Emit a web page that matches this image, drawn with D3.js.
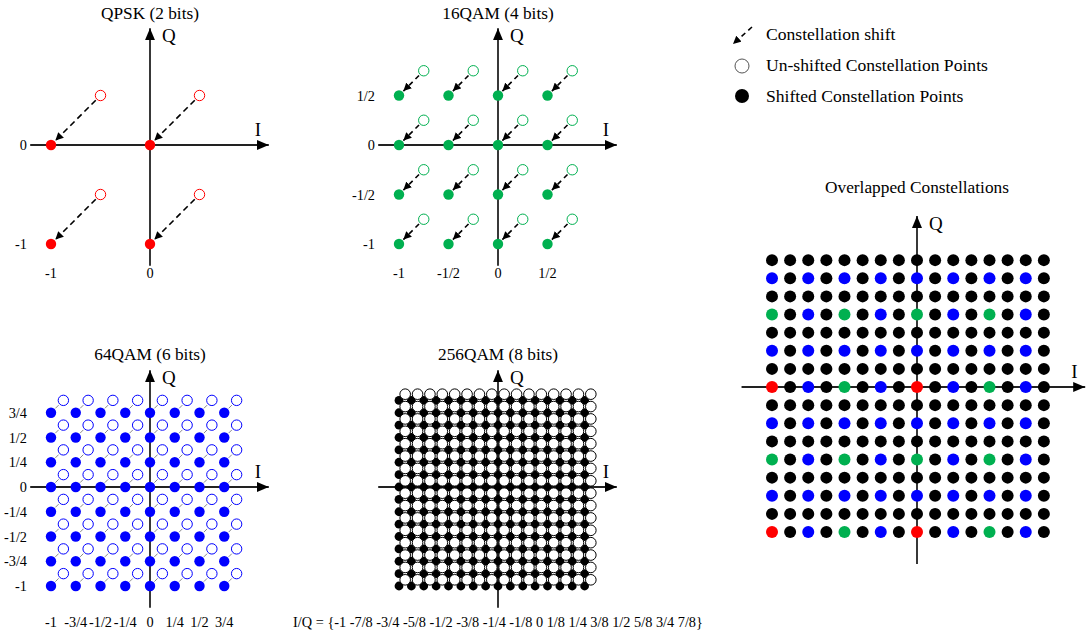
<!DOCTYPE html>
<html>
<head>
<meta charset="utf-8">
<script src="https://cdn.jsdelivr.net/npm/d3@7"></script>
<style>
  body { margin: 0; background: #fff; }
  svg text { font-family: "Liberation Serif", "Times New Roman", serif; fill: #000; }
</style>
</head>
<body>
<svg id="chart" width="1086" height="635"></svg>
<script>
// constellation levels (I and Q share the same set)
const qpskLevels = [-1, 0];
const qam16Levels = [-1, -1/2, 0, 1/2];
const qam64Levels = [-1, -3/4, -1/2, -1/4, 0, 1/4, 1/2, 3/4];
const qam256Levels = [-1, -7/8, -3/4, -5/8, -1/2, -3/8, -1/4, -1/8, 0, 1/8, 1/4, 3/8, 1/2, 5/8, 3/4, 7/8];

// how far the un-shifted points sit up-right of the shifted ones
const qpskShift = 1/2;
const qam16Shift = 1/4;
const qam64Shift = 1/8;
const qam256Shift = 1/16;

// tick labels
const qpskTicks = ["-1", "0"];
const qam16Ticks = ["-1", "-1/2", "0", "1/2"];
const qam64Ticks = ["-1", "-3/4", "-1/2", "-1/4", "0", "1/4", "1/2", "3/4"];
const qam256Ticks = ["-1", "-7/8", "-3/4", "-5/8", "-1/2", "-3/8", "-1/4", "-1/8", "0", "1/8", "1/4", "3/8", "1/2", "5/8", "3/4", "7/8"];

const legendItems = ["Constellation shift", "Un-shifted Constellation Points", "Shifted Constellation Points"];

const red = "#ff0000", green = "#00b050", blue = "#0000ff";

const svg = d3.select("#chart");
const defs = svg.append("defs");

defs.append("marker")
  .attr("id", "axisArrow")
  .attr("markerUnits", "userSpaceOnUse")
  .attr("viewBox", "0 -5 12 10")
  .attr("refX", 12).attr("refY", 0)
  .attr("markerWidth", 12).attr("markerHeight", 10)
  .attr("orient", "auto")
  .append("path").attr("d", "M0,-5L12,0L0,5Z").attr("fill", "#000");

defs.append("marker")
  .attr("id", "shiftArrow")
  .attr("markerUnits", "userSpaceOnUse")
  .attr("viewBox", "0 -4 8 8")
  .attr("refX", 8).attr("refY", 0)
  .attr("markerWidth", 8).attr("markerHeight", 8)
  .attr("orient", "auto")
  .append("path").attr("d", "M0,-4L8,0L0,4Z").attr("fill", "#000");

const panels = [
  { title: "QPSK (2 bits)", levels: qpskLevels, shift: qpskShift, ticks: qpskTicks,
    color: red, cx: 150, cy: 145, link: "long", titleY: 19, tickY: 278 },
  { title: "16QAM (4 bits)", levels: qam16Levels, shift: qam16Shift, ticks: qam16Ticks,
    color: green, cx: 498, cy: 145, link: "short", titleY: 19, tickY: 278 },
  { title: "64QAM (6 bits)", levels: qam64Levels, shift: qam64Shift, ticks: qam64Ticks,
    color: blue, cx: 150, cy: 487, link: "line", titleY: 360, tickY: 627 },
  { title: "256QAM (8 bits)", levels: qam256Levels, shift: qam256Shift, ticks: qam256Ticks,
    color: "#000", cx: 498, cy: 487, link: "none", titleY: 360, tickY: 627 }
];

const unit = 99;

function drawAxes(g, x, y, xEnd) {
  g.append("line")
    .attr("x1", x(-1.21)).attr("x2", x(xEnd))
    .attr("y1", y(0)).attr("y2", y(0))
    .attr("stroke", "#222").attr("stroke-width", 1.8)
    .attr("marker-end", "url(#axisArrow)");
  g.append("line")
    .attr("x1", x(0)).attr("x2", x(0))
    .attr("y1", y(-1.22)).attr("y2", y(1.18))
    .attr("stroke", "#222").attr("stroke-width", 1.8)
    .attr("marker-end", "url(#axisArrow)");
  g.append("text").attr("x", x(0) + 12).attr("y", y(1.18) + 14)
    .attr("font-size", 19).text("Q");
  g.append("text").attr("x", x(xEnd) - 14).attr("y", y(0) - 9)
    .attr("font-size", 19).text("I");
}

panels.forEach(p => {
  const g = svg.append("g");
  const x = d3.scaleLinear().domain([-1, 1]).range([p.cx - unit, p.cx + unit]);
  const y = d3.scaleLinear().domain([-1, 1]).range([p.cy + unit, p.cy - unit]);
  const pts = d3.cross(p.levels, p.levels).map(([i, q]) => ({ i, q }));
  const dense = p.link === "none";
  const r = dense ? 5.3 : 5.2;

  g.append("text").attr("x", p.cx).attr("y", p.titleY)
    .attr("text-anchor", "middle").attr("font-size", 17.3).text(p.title);

  drawAxes(g, x, y, 1.2);

  // connectors between un-shifted and shifted points
  const d = Math.SQRT1_2;
  if (!dense) {
    g.selectAll(".link").data(pts).join("line")
      .attr("x1", v => x(v.i + p.shift) - d * (r + 1.5))
      .attr("y1", v => y(v.q + p.shift) + d * (r + 1.5))
      .attr("x2", v => x(v.i) + d * (r + 1))
      .attr("y2", v => y(v.q) - d * (r + 1))
      .attr("stroke", p.link === "line" ? "#8a8a8a" : "#000")
      .attr("stroke-width", p.link === "line" ? 1 : 1.6)
      .attr("stroke-dasharray", p.link === "long" ? "6,4" : p.link === "short" ? "5,4" : null)
      .attr("marker-end", p.link === "line" ? null : "url(#shiftArrow)");
  }

  const drawOpen = () => g.selectAll(".open").data(pts).join("circle")
    .attr("class", "open")
    .attr("cx", v => x(v.i + p.shift))
    .attr("cy", v => y(v.q + p.shift))
    .attr("r", r)
    .attr("fill", "#fff")
    .attr("stroke", p.color)
    .attr("stroke-width", 1);

  const drawFilled = () => g.selectAll(".filled").data(pts).join("circle")
    .attr("class", "filled")
    .attr("cx", v => x(v.i))
    .attr("cy", v => y(v.q))
    .attr("r", dense ? 4.4 : r)
    .attr("fill", p.color);

  // in the 256QAM grid the un-shifted rings sit on top of the dots
  if (dense) { drawFilled(); drawOpen(); } else { drawOpen(); drawFilled(); }

  // tick labels
  if (dense) {
    g.append("text").attr("x", p.cx).attr("y", p.tickY)
      .attr("text-anchor", "middle").attr("font-size", 14.3)
      .text("I/Q = {" + p.ticks.join(" ") + "}");
  } else {
    g.selectAll(".xt").data(p.levels).join("text")
      .attr("x", v => x(v)).attr("y", p.tickY)
      .attr("text-anchor", "middle").attr("font-size", 14.3)
      .text((v, k) => p.ticks[k]);
    g.selectAll(".yt").data(p.levels).join("text")
      .attr("x", p.cx - 123).attr("y", v => y(v)).attr("dy", "0.35em")
      .attr("text-anchor", "end").attr("font-size", 14.3)
      .text((v, k) => p.ticks[k]);
  }
});

// overlapped constellations
{
  const g = svg.append("g");
  const u = 145, cx = 917, cy = 387;
  const x = d3.scaleLinear().domain([-1, 1]).range([cx - u, cx + u]);
  const y = d3.scaleLinear().domain([-1, 1]).range([cy + u, cy - u]);
  g.append("text").attr("x", cx).attr("y", 193)
    .attr("text-anchor", "middle").attr("font-size", 17.3).text("Overlapped Constellations");
  drawAxes(g, x, y, 1.16);

  const pts = d3.cross(qam256Levels, qam256Levels).map(([i, q]) => ({ i, q }));
  const inSet = (set, v) => set.includes(v.i) && set.includes(v.q);
  g.selectAll(".ov").data(pts).join("circle")
    .attr("cx", v => x(v.i))
    .attr("cy", v => y(v.q))
    .attr("r", 6)
    .attr("fill", v => inSet(qpskLevels, v) ? red
      : inSet(qam16Levels, v) ? green
      : inSet(qam64Levels, v) ? blue : "#000");
}

// legend
{
  const g = svg.append("g");
  const ly = d3.scalePoint().domain(legendItems).range([34, 96]);
  g.append("line")
    .attr("x1", 752).attr("y1", ly(legendItems[0]) - 7)
    .attr("x2", 733).attr("y2", ly(legendItems[0]) + 10)
    .attr("stroke", "#000").attr("stroke-width", 1.6)
    .attr("stroke-dasharray", "5,4")
    .attr("marker-end", "url(#shiftArrow)");
  g.append("circle").attr("cx", 742).attr("cy", ly(legendItems[1]) + 1).attr("r", 7)
    .attr("fill", "#fff").attr("stroke", "#555").attr("stroke-width", 1);
  g.append("circle").attr("cx", 742).attr("cy", ly(legendItems[2])).attr("r", 7)
    .attr("fill", "#000");
  g.selectAll(".lt").data(legendItems).join("text")
    .attr("x", 766).attr("y", v => ly(v)).attr("dy", "0.35em")
    .attr("font-size", 17.6).text(v => v);
}
</script>
</body>
</html>
